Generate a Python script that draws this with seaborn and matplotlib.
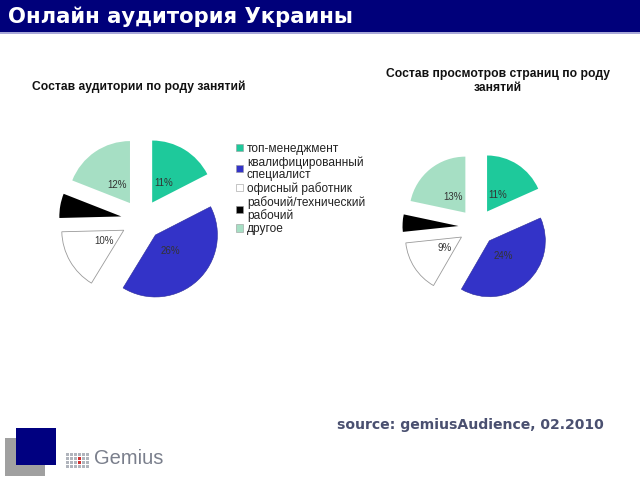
import matplotlib
matplotlib.use("Agg")
import matplotlib.pyplot as plt
import seaborn as sns
from matplotlib.patches import Rectangle

sns.set_theme(style="white")
plt.rcParams['font.family'] = ['Liberation Sans', 'DejaVu Sans']

# ---- data ----
categories = ["топ-менеджмент", "квалифицированный\nспециалист", "офисный работник",
              "рабочий/технический\nрабочий", "другое"]
audience_share = [11, 26, 10, 4, 12]        # % audience (black slice label hidden)
pageviews_share = [11, 24, 9, 3, 13]        # % page views
show_label = [True, True, True, False, True]
title = "Онлайн аудитория Украины"
subtitle_left = "Состав аудитории по роду занятий"
subtitle_right = "Состав просмотров страниц по роду\nзанятий"
source = "source: gemiusAudience, 02.2010"

colors = sns.color_palette(["#1ec99b", "#3333c8", "#ffffff", "#000000", "#a6dfc4"])

W, H = 640, 480
fig = plt.figure(figsize=(W / 100, H / 100), dpi=100)
fig.patch.set_facecolor("white")

def px_axes(cx, cy, size):
    return fig.add_axes([(cx - size / 2) / W, 1 - (cy + size / 2) / H, size / W, size / H])

def draw_pie(cx, cy, radius, values):
    size = 220
    ax = px_axes(cx, cy, size)
    lab = [f"{v}%" if s else "" for v, s in zip(values, show_label)]
    wedges, texts = ax.pie(values, colors=colors, startangle=90, counterclock=False,
                           explode=[0.33] * len(values), labels=lab, labeldistance=0.36,
                           wedgeprops=dict(linewidth=0),
                           textprops=dict(fontsize=7, color="#333333"))
    for t in texts:
        t.set_ha("center"); t.set_va("center")
    wedges[2].set_edgecolor("#9a9a9a"); wedges[2].set_linewidth(0.6)
    wedges[1].set_edgecolor("#2a2a9a"); wedges[1].set_linewidth(0.4)
    lim = size / 2 / radius
    ax.set_xlim(-lim, lim); ax.set_ylim(-lim, lim)
    ax.set_aspect("equal")
    ax.axis("off")
    return ax, wedges

ax1, wedges = draw_pie(141.5, 220, 62, audience_share)
ax2, _ = draw_pie(477, 227, 56, pageviews_share)

# legend
leg = fig.legend(wedges, categories, loc="upper left",
                 bbox_to_anchor=(236 / W, 1 - 143 / H), frameon=False,
                 fontsize=8.6, handlelength=0.57, handleheight=0.57, handletextpad=0.35,
                 labelspacing=0.1, borderpad=0, borderaxespad=0)
for t in leg.get_texts():
    t.set_color("#222222")
    t.set_linespacing(1.0)
for h in leg.legend_handles:
    h.set_edgecolor("#9a9a9a"); h.set_linewidth(0.4)

# header
fig.patches.append(Rectangle((0, 1 - 32 / H), 1, 32 / H, transform=fig.transFigure,
                             facecolor="#00007a", edgecolor="none"))
fig.patches.append(Rectangle((0, 1 - 33.5 / H), 1, 1.5 / H, transform=fig.transFigure,
                             facecolor="#a8a8d8", edgecolor="none"))
fig.text(8 / W, 1 - 17 / H, title, color="white", fontsize=15.2, fontweight="bold",
         family="DejaVu Sans", va="center", ha="left")

# subtitles
fig.text(139 / W, 1 - 87 / H, subtitle_left, fontsize=8.7, fontweight="bold",
         color="#111111", ha="center", va="center")
fig.text(498 / W, 1 - 81 / H, subtitle_right, fontsize=8.7, fontweight="bold",
         color="#111111", ha="center", va="center", linespacing=1.25)

# source
fig.text(337 / W, 1 - 425 / H, source, fontsize=10.1, fontweight="bold",
         family="DejaVu Sans", color="#4a5070", ha="left", va="center")

# logo
fig.patches.append(Rectangle((5 / W, 1 - 476 / H), 40 / W, 38 / H, transform=fig.transFigure,
                             facecolor="#a0a0a0", edgecolor="none"))
fig.patches.append(Rectangle((16 / W, 1 - 465 / H), 40 / W, 37 / H, transform=fig.transFigure,
                             facecolor="#000080", edgecolor="none"))
for i in range(6):
    for j in range(4):
        c = "#d03030" if (i == 3 and j in (1, 2)) else "#b0b4bc"
        fig.patches.append(Rectangle(((66 + i * 4) / W, 1 - (453 + j * 4 + 3) / H), 3 / W, 3 / H,
                                     transform=fig.transFigure, facecolor=c, edgecolor="none"))
fig.text(94 / W, 1 - 459 / H, "Gemius", fontsize=14.5, color="#7a7f8c", ha="left", va="center")

fig.savefig("out.png", dpi=100)
